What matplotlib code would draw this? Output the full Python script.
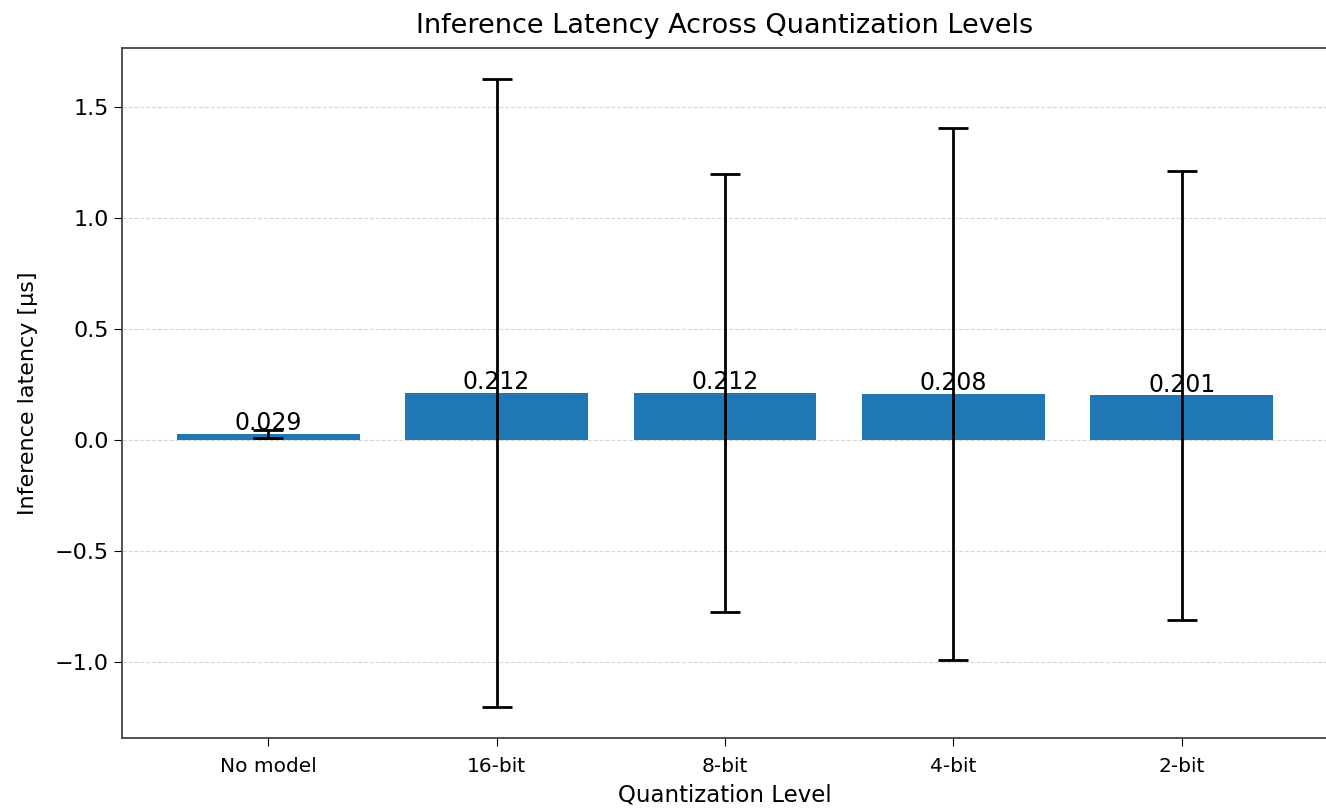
import numpy as np
import matplotlib
matplotlib.use("Agg")
import matplotlib.pyplot as plt

levels = ["No model", "16-bit", "8-bit", "4-bit", "2-bit"]
latency = [0.029, 0.212, 0.212, 0.208, 0.201]
latency_std = [0.018, 1.414, 0.986, 1.199, 1.014]

fig = plt.figure(figsize=(13.26, 8.09), dpi=100)
ax = fig.add_axes([122/1326, 71/809, 1206/1326, 690/809])

x = np.arange(len(levels))
bars = ax.bar(x, latency, width=0.8, color="#1f77b4",
              yerr=latency_std, capsize=11,
              error_kw=dict(elinewidth=2, capthick=2, ecolor="black"))
for xi, v in zip(x, latency):
    ax.text(xi, v - 0.005, "%.3f" % v, ha="center", va="bottom", fontsize=17)

ax.set_xticks(x)
ax.set_xticklabels(levels, fontsize=14.5)
ax.tick_params(axis="y", labelsize=16)
ax.tick_params(length=6)
ax.tick_params(axis="x", pad=8)
ax.set_xlabel("Quantization Level", fontsize=16.5, labelpad=5)
ax.set_ylabel("Inference latency [μs]", fontsize=16, labelpad=12)
ax.set_title("Inference Latency Across Quantization Levels", fontsize=19.5, pad=11)
ax.yaxis.grid(True, linestyle="--", alpha=0.6, color="#bbbbbb")
ax.set_axisbelow(True)
for s in ax.spines.values():
    s.set_linewidth(1.3)
    s.set_color("#444444")

plt.savefig("out.png", dpi=100)
